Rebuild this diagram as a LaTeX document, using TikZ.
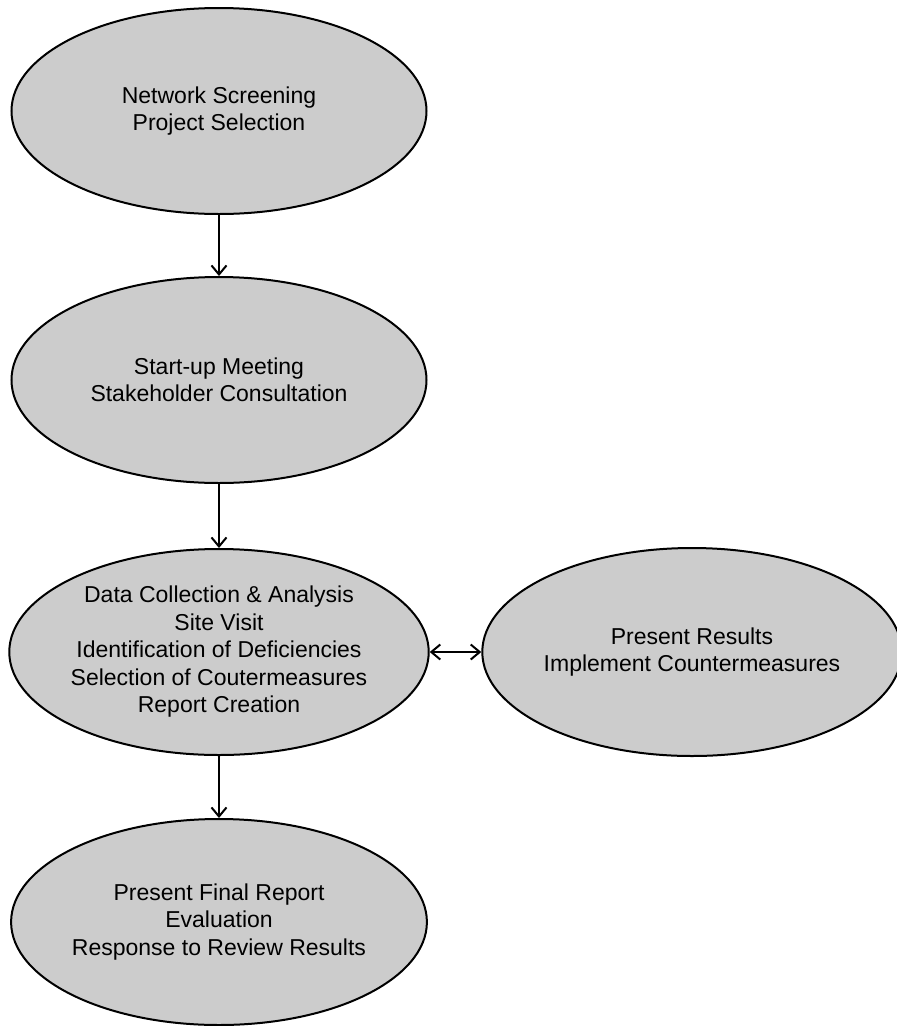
\documentclass[tikz,border=0pt]{standalone}
\usepackage{fontspec}
\setmainfont{Liberation Sans}
\usetikzlibrary{shapes.geometric,arrows.meta}
\definecolor{boxgray}{RGB}{204,204,204}
\begin{document}
\begin{tikzpicture}[x=1pt, y=-1pt,
        phase/.style = {draw, ellipse, fill=boxgray, line width=2pt, minimum width=415pt, minimum height=206pt, inner sep=0pt, align=center, font=\fontsize{23}{27.5}\selectfont},
        link/.style = {line width=1.6pt, -{Straight Barb[length=9pt,width=15pt,line width=2pt]}},
        dlink/.style = {line width=1.6pt, {Straight Barb[length=9pt,width=15pt,line width=2pt]}-{Straight Barb[length=9pt,width=15pt,line width=2pt]}}]
        \useasboundingbox (0,0) rectangle (897,1026);

        \node[phase] at (219, 111) (screen) {Network Screening\\Project Selection};
        \node[phase] at (219, 380) (meet) {Start-up Meeting\\Stakeholder Consultation};
        \node[phase] at (219, 652) (data) {Data Collection \& Analysis\\Site Visit\\Identification of Deficiencies\\Selection of Coutermeasures\\Report Creation};
        \node[phase, minimum width=407pt, minimum height=208pt] at (692, 652) (results) {Present Results\\Implement Countermeasures};
        \node[phase] at (219, 922) (final) {Present Final Report\\Evaluation\\Response to Review Results};

        \draw[link] (screen) -- (meet);
        \draw[link] (meet) -- (data);
        \draw[link] (data) -- (final);
        \draw[dlink] (data) -- (results);
\end{tikzpicture}
\end{document}
